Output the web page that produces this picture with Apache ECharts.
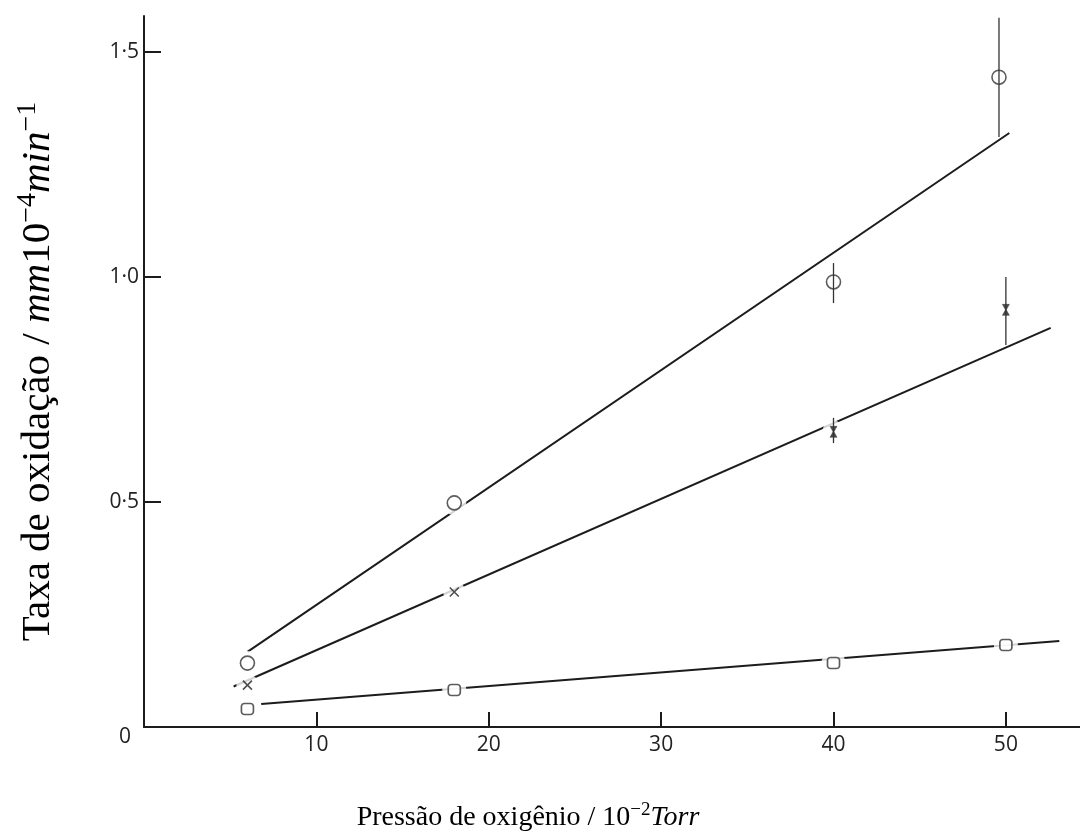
<!DOCTYPE html>
<html>
<head>
<meta charset="utf-8">
<script src="https://cdn.jsdelivr.net/npm/echarts@6/dist/echarts.min.js"></script>
<style>
html,body{margin:0;padding:0;background:#fff;}
#chart{width:1080px;height:836px;}
</style>
</head>
<body>
<div id="chart"></div>
<script>
// ---- data ----
const xTickValues = [10, 20, 30, 40, 50];
const yTickValues = [0.5, 1.0, 1.5];
const yLabelValues = [0, 0.5, 1.0, 1.5];

const circleX = [6, 18, 40, 49.6];
const circleY = [0.142, 0.498, 0.989, 1.444];
const crossX  = [6, 18, 40, 50];
const crossY  = [0.093, 0.30, 0.656, 0.927];
const squareX = [6, 18, 40, 50];
const squareY = [0.040, 0.082, 0.142, 0.182];

// error bars: [x, low, high]
const circleErr = [[40, 0.942, 1.031], [49.6, 1.311, 1.576]];
const crossErr  = [[40, 0.631, 0.687], [50, 0.849, 1.000]];

// fitted straight lines: [x, y] end points
const circleFit = [[6.0, 0.167], [50.2, 1.320]];
const crossFit  = [[5.2, 0.090], [52.6, 0.887]];
const squareFit = [[6.8, 0.051], [53.1, 0.191]];

// ---- chart ----
const INK = '#1c1c1c';
const pts = (xs, ys) => xs.map((x, i) => [x, ys[i]]);
const hasErr = (errs, x) => errs.some(e => e[0] === x);

const hourglass = 'path://M0,0L10,0L5.6,7L10,14L0,14L4.4,7Z';
const crossPath = 'path://M0,0L10,10M10,0L0,10';

function fitSeries(data) {
  return {
    type: 'line', data: data, symbol: 'none', z: 2, silent: true,
    lineStyle: { color: INK, width: 2 }
  };
}
function haloSeries(data, size) {
  return {
    type: 'scatter', data: data, symbol: 'circle', symbolSize: size, z: 3, silent: true,
    itemStyle: { color: '#fff', borderWidth: 0 }
  };
}
function errSeries(data) {
  return {
    type: 'custom', z: 6, silent: true, data: data,
    renderItem: function (params, api) {
      const a = api.coord([api.value(0), api.value(1)]);
      const b = api.coord([api.value(0), api.value(2)]);
      return { type: 'line', shape: { x1: a[0], y1: a[1], x2: b[0], y2: b[1] },
               style: { stroke: '#333', lineWidth: 1.3 } };
    }
  };
}

const circlePts = pts(circleX, circleY);
const crossPts = pts(crossX, crossY);
const squarePts = pts(squareX, squareY);

const option = {
  backgroundColor: '#fff',
  animation: false,
  grid: { left: 144, right: 0, top: 16, bottom: 109, containLabel: false, outerBoundsMode: 'none' },
  xAxis: {
    type: 'value', min: 0, max: 54.3,
    name: 'Pressão de oxigênio / 10{sup|−2}{it|Torr}',
    nameLocation: 'middle', nameGap: 74,
    nameTextStyle: {
      fontFamily: 'Liberation Serif', fontSize: 28, color: '#000',
      padding: [0, 168, 0, 0],
      rich: {
        sup: { fontFamily: 'Liberation Serif', fontSize: 19, color: '#000', padding: [0, 0, 14, 0] },
        it: { fontFamily: 'Liberation Serif', fontSize: 28, fontStyle: 'italic', color: '#000' }
      }
    },
    axisLine: { show: true, onZero: false, lineStyle: { color: INK, width: 2 } },
    axisTick: { show: true, inside: true, length: 15, customValues: xTickValues,
                lineStyle: { color: INK, width: 2 } },
    axisLabel: { customValues: xTickValues, margin: 8, fontFamily: 'Open Sans', fontSize: 21, color: '#222' },
    splitLine: { show: false }
  },
  yAxis: {
    type: 'value', min: 0, max: 1.58,
    name: 'Taxa de oxidação / {it|mm}10{sup|−4}{it|min}{sup|−1}',
    nameLocation: 'middle', nameGap: 82,
    nameTextStyle: {
      fontFamily: 'Liberation Serif', fontSize: 41, color: '#000',
      rich: {
        sup: { fontFamily: 'Liberation Serif', fontSize: 28, color: '#000', padding: [0, 0, 20, 0] },
        it: { fontFamily: 'Liberation Serif', fontSize: 41, fontStyle: 'italic', color: '#000' }
      }
    },
    axisLine: { show: true, lineStyle: { color: INK, width: 2 } },
    axisTick: { show: true, inside: true, length: 17, customValues: yTickValues,
                lineStyle: { color: INK, width: 2 } },
    axisLabel: {
      customValues: yLabelValues, margin: 5, fontFamily: 'Open Sans', fontSize: 21, color: '#222',
      formatter: function (v) {
        return v === 0 ? '{z|0}' : v.toFixed(1).replace('.', '·');
      },
      rich: { z: { fontFamily: 'Open Sans', fontSize: 21, color: '#222', padding: [20, 8, 0, 0] } }
    },
    splitLine: { show: false }
  },
  series: [
    fitSeries(circleFit),
    fitSeries(crossFit),
    fitSeries(squareFit),
    haloSeries(circlePts, 24),
    haloSeries(crossPts, 22),
    haloSeries(squarePts, 24),
    {
      type: 'scatter', z: 4, data: circlePts, symbol: 'circle', symbolSize: 14,
      itemStyle: { color: '#fff', borderColor: '#333', borderWidth: 1.6 }
    },
    {
      type: 'scatter', z: 4,
      data: crossPts.map(p => hasErr(crossErr, p[0])
        ? { value: p, symbol: hourglass, symbolSize: [7, 11], itemStyle: { color: '#222', borderColor: '#222', borderWidth: 0.5 } }
        : { value: p, symbol: crossPath, symbolSize: 9, itemStyle: { color: 'none', borderColor: '#222', borderWidth: 1.6 } })
    },
    {
      type: 'scatter', z: 4, data: squarePts, symbol: 'roundRect', symbolSize: [12, 11],
      itemStyle: { color: '#fff', borderColor: '#333', borderWidth: 1.6 }
    },
    errSeries(circleErr),
    errSeries(crossErr)
  ]
};

const chart = echarts.init(document.getElementById('chart'), null, { renderer: 'canvas' });
chart.setOption(option);
</script>
</body>
</html>
